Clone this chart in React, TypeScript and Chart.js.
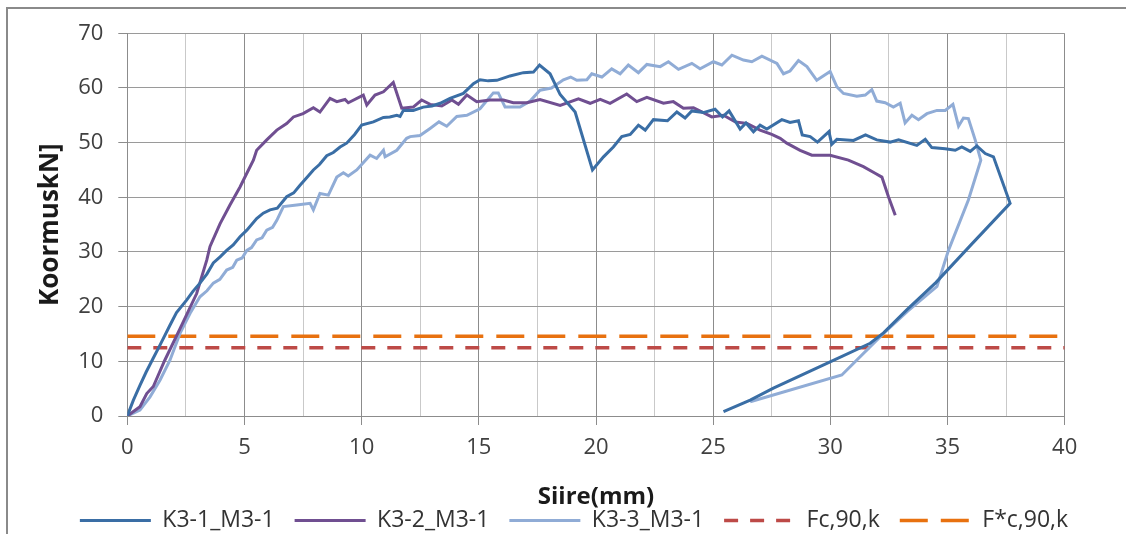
import React, { useEffect, useRef } from 'react';
import { Chart, registerables } from 'chart.js';

Chart.register(...registerables);

// ---- Data (Siire mm / Koormus kN) ----
const k31X = [0, 0.26, 0.54, 0.8, 1.11, 1.4, 1.82, 2.1, 2.53, 2.8, 3.1, 3.4, 3.67, 3.96, 4.24, 4.52, 4.81, 5.1, 5.52, 5.8, 6.09, 6.4, 6.8, 7.1, 7.37, 7.7, 7.94, 8.2, 8.51, 8.79, 9.08, 9.36, 9.7, 10.0, 10.5, 10.93, 11.2, 11.5, 11.64, 11.78, 12.2, 12.63, 13.0, 13.35, 13.77, 14.34, 14.77, 15.05, 15.4, 15.77, 16.33, 16.9, 17.33, 17.59, 18.04, 18.47, 19.11, 19.85, 20.32, 20.74, 21.1, 21.46, 21.81, 22.1, 22.45, 23.05, 23.45, 23.8, 24.09, 24.58, 25.08, 25.4, 25.68, 26.15, 26.4, 26.72, 27.0, 27.29, 27.93, 28.28, 28.64, 28.8, 29.14, 29.45, 29.94, 30.06, 30.28, 30.99, 31.5, 31.98, 32.55, 32.91, 33.69, 34.05, 34.33, 34.9, 35.33, 35.61, 35.97, 36.25, 36.61, 36.96, 37.67, 36.0, 34.5, 33.26, 32.27, 31.7, 29.99, 27.57, 26.58, 25.44];
const k31Y = [0, 2.9, 5.6, 8.0, 10.6, 13.0, 16.6, 18.9, 21.2, 22.8, 24.3, 26.0, 28.0, 29.1, 30.3, 31.3, 32.8, 34.0, 36.1, 37.1, 37.7, 38.0, 40.1, 40.8, 42.2, 43.8, 45.0, 46.0, 47.6, 48.2, 49.2, 49.9, 51.5, 53.2, 53.8, 54.6, 54.7, 55.0, 54.8, 55.9, 55.9, 56.5, 56.7, 57.2, 58.1, 59.0, 60.8, 61.5, 61.3, 61.4, 62.2, 62.8, 62.9, 64.2, 62.6, 58.8, 55.6, 45.0, 47.4, 49.2, 51.1, 51.5, 53.2, 52.3, 54.2, 54.0, 55.6, 54.5, 55.8, 55.5, 56.1, 54.7, 55.8, 52.5, 53.6, 52.0, 53.2, 52.5, 54.2, 53.7, 54.0, 51.4, 51.1, 50.1, 52.0, 49.7, 50.6, 50.4, 51.4, 50.5, 50.1, 50.5, 49.5, 50.6, 49.1, 48.9, 48.6, 49.2, 48.4, 49.4, 48.0, 47.4, 38.9, 31.3, 24.4, 19.4, 15.2, 13.3, 9.9, 5.1, 2.9, 0.8];

const k32X = [0, 0.54, 0.83, 1.11, 1.6, 2.25, 2.96, 3.39, 3.53, 3.96, 4.38, 4.81, 5.1, 5.38, 5.52, 5.95, 6.38, 6.8, 7.09, 7.5, 7.94, 8.22, 8.65, 8.94, 9.29, 9.43, 10.07, 10.22, 10.57, 10.93, 11.35, 11.71, 12.2, 12.56, 12.92, 13.42, 13.85, 14.13, 14.49, 14.91, 15.48, 16.05, 16.47, 17.05, 17.61, 18.47, 19.25, 19.75, 20.18, 20.6, 21.31, 21.74, 22.17, 22.88, 23.3, 23.73, 24.16, 24.94, 25.44, 25.94, 26.44, 27.0, 27.5, 27.86, 28.14, 28.71, 29.21, 29.99, 30.77, 31.41, 31.91, 32.2, 32.48, 32.77];
const k32Y = [0, 1.7, 4.1, 5.4, 10.2, 16.0, 22.4, 28.5, 31.0, 35.2, 38.6, 41.9, 44.4, 46.8, 48.6, 50.5, 52.3, 53.5, 54.7, 55.3, 56.4, 55.6, 58.1, 57.5, 57.9, 57.3, 58.7, 56.9, 58.7, 59.3, 61.0, 56.3, 56.5, 57.8, 57.0, 56.7, 57.8, 57.0, 58.7, 57.5, 57.8, 57.8, 57.3, 57.3, 57.9, 56.8, 58.0, 57.2, 57.9, 57.2, 58.9, 57.5, 58.3, 57.2, 57.5, 56.3, 56.4, 54.7, 55.0, 53.8, 53.5, 52.3, 51.5, 50.8, 49.9, 48.6, 47.7, 47.7, 46.8, 45.6, 44.4, 43.7, 40.1, 36.7];

const k33X = [0, 0.54, 0.97, 1.4, 1.82, 2.25, 2.68, 3.1, 3.4, 3.67, 3.95, 4.24, 4.5, 4.67, 4.9, 5.1, 5.3, 5.52, 5.75, 5.95, 6.2, 6.38, 6.66, 7.23, 7.8, 7.94, 8.22, 8.58, 8.94, 9.22, 9.43, 9.79, 10.36, 10.64, 10.93, 11.0, 11.5, 11.92, 12.07, 12.49, 12.92, 13.3, 13.63, 14.06, 14.49, 15.05, 15.62, 15.83, 16.12, 16.76, 17.19, 17.61, 18.1, 18.61, 18.92, 19.18, 19.61, 19.82, 20.25, 20.67, 21.03, 21.38, 21.81, 22.17, 22.74, 23.09, 23.52, 24.09, 24.44, 25.01, 25.37, 25.8, 26.29, 26.65, 27.08, 27.72, 28.0, 28.28, 28.64, 29.0, 29.42, 29.99, 30.28, 30.56, 31.13, 31.49, 31.77, 31.98, 32.34, 32.69, 32.98, 33.19, 33.48, 33.76, 34.12, 34.55, 34.9, 35.23, 35.47, 35.68, 35.89, 36.18, 36.42, 35.89, 35.04, 34.55, 33.3, 32.27, 30.49, 26.58];
const k33Y = [0, 1.1, 3.5, 6.6, 10.2, 15.1, 18.8, 21.8, 22.9, 24.3, 25.0, 26.7, 27.2, 28.5, 28.9, 30.3, 30.8, 32.2, 32.6, 34.0, 34.5, 35.8, 38.3, 38.6, 38.9, 37.7, 40.7, 40.4, 43.7, 44.5, 43.9, 45.0, 47.7, 47.1, 48.6, 47.4, 48.6, 50.8, 51.1, 51.3, 52.6, 53.8, 53.0, 54.8, 55.0, 56.2, 59.1, 59.1, 56.5, 56.5, 57.6, 59.6, 60.0, 61.5, 62.0, 61.4, 61.5, 62.6, 62.0, 63.5, 62.6, 64.2, 62.8, 64.3, 63.9, 64.8, 63.4, 64.5, 63.5, 64.8, 64.2, 66.0, 65.1, 64.8, 65.8, 64.5, 62.6, 63.1, 65.0, 63.9, 61.4, 63.0, 60.2, 59.0, 58.5, 58.7, 59.7, 57.6, 57.3, 56.5, 57.2, 53.6, 55.0, 54.2, 55.3, 55.9, 55.9, 57.0, 53.0, 54.5, 54.4, 50.5, 46.8, 39.5, 30.3, 23.7, 19.2, 15.1, 7.5, 2.6];

const fcX = [0, 40];
const fcY = [12.5, 12.5];
const fStarX = [0, 40];
const fStarY = [14.6, 14.6];

const seriesNames = ['K3-1_M3-1', 'K3-2_M3-1', 'K3-3_M3-1', 'Fc,90,k', 'F*c,90,k'];
const xTickValues = [0, 2.5, 5, 7.5, 10, 12.5, 15, 17.5, 20, 22.5, 25, 27.5, 30, 32.5, 35, 37.5, 40];
const yTickValues = [0, 10, 20, 30, 40, 50, 60, 70];

const pts = (xs: number[], ys: number[]) => xs.map((x, i) => ({ x, y: ys[i] }));

const W = 1126;
const H = 534;
const PLOT_BOTTOM = 416;
const PAD_BOTTOM = -8;
const FONT = 'Open Sans';
const MAJOR = '#8c8c8c';
const MINOR = '#c9c9c9';

export default function App() {
  const ref = useRef<HTMLCanvasElement | null>(null);

  useEffect(() => {
    if (!ref.current) return;
    const mk = (label: string, data: any[], color: string, width: number, dash: number[] = []) => ({
      label,
      data,
      borderColor: color,
      backgroundColor: color,
      borderWidth: width,
      borderDash: dash,
      showLine: true,
      fill: false,
      tension: 0,
      pointRadius: 0,
      pointHoverRadius: 0,
      yAxisID: 'y',
      xAxisID: 'x',
    });
    const defaultLabels = (Chart.defaults as any).plugins.legend.labels.generateLabels;
    const chart = new Chart(ref.current, {
      type: 'scatter',
      data: {
        datasets: [
          mk(seriesNames[0], pts(k31X, k31Y), '#3A6EA5', 3),
          mk(seriesNames[1], pts(k32X, k32Y), '#704F91', 3),
          mk(seriesNames[2], pts(k33X, k33Y), '#90ACD6', 3),
          mk(seriesNames[3], pts(fcX, fcY), '#BD4A47', 3.5, [14, 12]),
          mk(seriesNames[4], pts(fStarX, fStarY), '#E8710F', 3.5, [28, 13]),
        ] as any,
      },
      options: {
        responsive: false,
        animation: false,
        devicePixelRatio: 1,
        layout: { padding: { left: 22, top: 33.3, right: 0, bottom: PAD_BOTTOM } },
        plugins: {
          tooltip: { enabled: false },
          legend: {
            position: 'bottom',
            labels: {
              usePointStyle: true,
              pointStyle: 'line',
              pointStyleWidth: 71,
              padding: 20,
              color: '#333333',
              font: { family: FONT, size: 23 },
              generateLabels: (c: any) => {
                const items = defaultLabels(c);
                items.forEach((it: any) => {
                  const ds = c.data.datasets[it.datasetIndex];
                  it.lineDash = ds.borderDash || [];
                  it.lineWidth = ds.borderWidth;
                  it.strokeStyle = ds.borderColor;
                  it.pointStyle = 'line';
                });
                return items;
              },
            },
          },
        },
        scales: {
          x: {
            type: 'linear',
            min: 0,
            max: 40,
            afterBuildTicks: (s: any) => {
              s.ticks = xTickValues.map((v) => ({ value: v }));
            },
            afterFit: (s: any) => {
              const lg = s.chart.legend;
              s.height = H - PAD_BOTTOM - (lg ? lg.height : 0) - PLOT_BOTTOM;
            },
            ticks: {
              autoSkip: false,
              maxRotation: 0,
              padding: 10,
              color: '#404040',
              font: { family: FONT, size: 22 },
              callback: (v: any) => (Number(v) % 5 === 0 ? String(v) : ''),
            },
            grid: {
              color: (c: any) => (c.tick && c.tick.value % 5 === 0 ? MAJOR : MINOR),
              tickColor: (c: any) => (c.tick && c.tick.value % 5 === 0 ? MAJOR : 'rgba(0,0,0,0)'),
              tickLength: 9,
              lineWidth: 1,
            },
            border: { color: MAJOR, width: 1 },
            title: {
              display: true,
              text: 'Siire(mm)',
              color: '#1a1a1a',
              font: { family: FONT, size: 24, weight: 'bold' },
              padding: { top: 0, bottom: -23 },
            },
          },
          y: {
            type: 'linear',
            position: 'left',
            min: 0,
            max: 70,
            afterBuildTicks: (s: any) => {
              s.ticks = yTickValues.map((v) => ({ value: v }));
            },
            afterFit: (s: any) => {
              s.width = 127.3 - 22;
            },
            ticks: {
              padding: 15,
              color: '#404040',
              font: { family: FONT, size: 22 },
            },
            grid: { color: '#9a9a9a', tickColor: MAJOR, tickLength: 9, lineWidth: 1 },
            border: { color: MAJOR, width: 1 },
            title: {
              display: true,
              text: 'KoormuskN]',
              color: '#1a1a1a',
              font: { family: FONT, size: 26, weight: 'bold' },
              padding: { top: 13, bottom: 0 },
            },
          },
          y2: {
            type: 'linear',
            position: 'right',
            display: true,
            grid: { display: false, drawTicks: false },
            ticks: { display: false },
            border: { display: false },
            afterFit: (s: any) => {
              s.width = W - 1064.7;
            },
          },
        },
      } as any,
    });
    return () => chart.destroy();
  }, []);

  return (
    <div style={{ position: 'absolute', left: 0, top: 0, width: W, height: H, overflow: 'hidden', background: '#fff' }}>
      <div
        style={{
          position: 'absolute',
          left: 6,
          top: 7,
          width: 1200,
          height: 600,
          border: '2px solid #8a8a8a',
        }}
      />
      <canvas ref={ref} width={W} height={H} style={{ position: 'absolute', left: 0, top: 0 }} />
    </div>
  );
}
